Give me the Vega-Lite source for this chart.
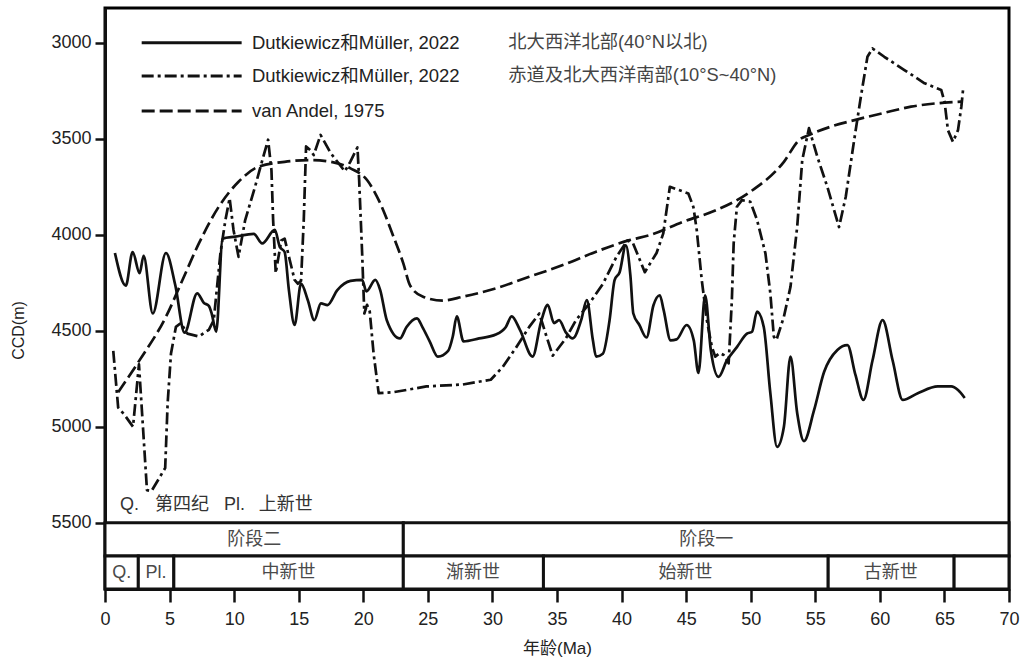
{
  "$schema": "https://vega.github.io/schema/vega-lite/v6.json",
  "width": 904,
  "height": 581,
  "autosize": {"type": "none"},
  "padding": {"left": 105, "top": 8, "right": 24, "bottom": 75},
  "background": "white",
  "config": {
    "view": {"stroke": "#000", "strokeWidth": 3},
    "font": "Liberation Sans, Noto Sans CJK SC, sans-serif"
  },
  "datasets": {
    "curves": [
      {"s":"N","x":0.77,"y":4095},{"s":"N","x":1.61,"y":4265},{"s":"N","x":2.14,"y":4090},{"s":"N","x":2.68,"y":4200},{"s":"N","x":2.99,"y":4110},{"s":"N","x":3.70,"y":4410},{"s":"N","x":4.72,"y":4095},{"s":"N","x":5.44,"y":4262},{"s":"N","x":6.16,"y":4510},{"s":"N","x":7.14,"y":4305},{"s":"N","x":7.66,"y":4355},{"s":"N","x":8.04,"y":4370},{"s":"N","x":8.27,"y":4413},{"s":"N","x":8.61,"y":4505},{"s":"N","x":9.11,"y":4020},{"s":"N","x":10.08,"y":4010},{"s":"N","x":11.52,"y":3995},{"s":"N","x":12.17,"y":4045},{"s":"N","x":13.15,"y":3975},{"s":"N","x":13.53,"y":4062},{"s":"N","x":13.91,"y":4090},{"s":"N","x":14.24,"y":4288},{"s":"N","x":14.68,"y":4470},{"s":"N","x":15.18,"y":4255},{"s":"N","x":15.70,"y":4340},{"s":"N","x":16.21,"y":4445},{"s":"N","x":16.72,"y":4357},{"s":"N","x":17.23,"y":4366},{"s":"N","x":17.99,"y":4288},{"s":"N","x":19.01,"y":4240},{"s":"N","x":19.91,"y":4235},{"s":"N","x":20.24,"y":4295},{"s":"N","x":20.93,"y":4235},{"s":"N","x":21.31,"y":4288},{"s":"N","x":21.82,"y":4445},{"s":"N","x":22.84,"y":4540},{"s":"N","x":23.35,"y":4480},{"s":"N","x":24.16,"y":4435},{"s":"N","x":24.58,"y":4481},{"s":"N","x":25.14,"y":4555},{"s":"N","x":25.78,"y":4635},{"s":"N","x":26.57,"y":4605},{"s":"N","x":26.93,"y":4530},{"s":"N","x":27.24,"y":4425},{"s":"N","x":27.76,"y":4555},{"s":"N","x":28.97,"y":4540},{"s":"N","x":30.26,"y":4520},{"s":"N","x":31.04,"y":4480},{"s":"N","x":31.49,"y":4425},{"s":"N","x":32.13,"y":4495},{"s":"N","x":33.11,"y":4635},{"s":"N","x":33.76,"y":4455},{"s":"N","x":34.28,"y":4365},{"s":"N","x":34.77,"y":4460},{"s":"N","x":35.16,"y":4445},{"s":"N","x":35.70,"y":4510},{"s":"N","x":36.22,"y":4540},{"s":"N","x":36.87,"y":4445},{"s":"N","x":37.31,"y":4340},{"s":"N","x":37.78,"y":4550},{"s":"N","x":38.03,"y":4635},{"s":"N","x":38.55,"y":4620},{"s":"N","x":39.07,"y":4445},{"s":"N","x":39.46,"y":4236},{"s":"N","x":39.85,"y":4195},{"s":"N","x":40.33,"y":4055},{"s":"N","x":40.68,"y":4210},{"s":"N","x":40.91,"y":4410},{"s":"N","x":41.38,"y":4470},{"s":"N","x":41.93,"y":4535},{"s":"N","x":42.47,"y":4367},{"s":"N","x":42.96,"y":4315},{"s":"N","x":43.25,"y":4390},{"s":"N","x":43.80,"y":4550},{"s":"N","x":44.26,"y":4545},{"s":"N","x":45.04,"y":4470},{"s":"N","x":45.59,"y":4550},{"s":"N","x":45.95,"y":4720},{"s":"N","x":46.47,"y":4315},{"s":"N","x":46.91,"y":4600},{"s":"N","x":47.51,"y":4740},{"s":"N","x":48.15,"y":4655},{"s":"N","x":48.93,"y":4585},{"s":"N","x":49.71,"y":4515},{"s":"N","x":50.10,"y":4505},{"s":"N","x":50.49,"y":4400},{"s":"N","x":51.01,"y":4480},{"s":"N","x":51.52,"y":4825},{"s":"N","x":52.04,"y":5105},{"s":"N","x":52.57,"y":5000},{"s":"N","x":53.08,"y":4635},{"s":"N","x":53.60,"y":4930},{"s":"N","x":54.12,"y":5075},{"s":"N","x":54.90,"y":4915},{"s":"N","x":55.68,"y":4715},{"s":"N","x":56.71,"y":4600},{"s":"N","x":57.49,"y":4575},{"s":"N","x":58.11,"y":4730},{"s":"N","x":58.73,"y":4860},{"s":"N","x":59.43,"y":4655},{"s":"N","x":60.21,"y":4445},{"s":"N","x":60.99,"y":4655},{"s":"N","x":61.77,"y":4860},{"s":"N","x":62.94,"y":4825},{"s":"N","x":64.49,"y":4790},{"s":"N","x":65.53,"y":4790},{"s":"N","x":66.05,"y":4809},{"s":"N","x":66.57,"y":4850},
      {"s":"E","x":0.64,"y":4605},{"s":"E","x":1.02,"y":4900},{"s":"E","x":1.53,"y":4940},{"s":"E","x":2.17,"y":5000},{"s":"E","x":2.63,"y":4675},{"s":"E","x":3.25,"y":5330},{"s":"E","x":3.60,"y":5335},{"s":"E","x":4.66,"y":5215},{"s":"E","x":4.85,"y":4878},{"s":"E","x":5.11,"y":4618},{"s":"E","x":5.49,"y":4480},{"s":"E","x":5.87,"y":4460},{"s":"E","x":6.38,"y":4515},{"s":"E","x":7.27,"y":4530},{"s":"E","x":8.04,"y":4495},{"s":"E","x":8.42,"y":4445},{"s":"E","x":8.68,"y":4270},{"s":"E","x":8.94,"y":4095},{"s":"E","x":9.32,"y":3925},{"s":"E","x":9.65,"y":3810},{"s":"E","x":9.95,"y":3975},{"s":"E","x":10.34,"y":4115},{"s":"E","x":10.85,"y":3925},{"s":"E","x":11.62,"y":3750},{"s":"E","x":12.25,"y":3595},{"s":"E","x":12.63,"y":3505},{"s":"E","x":12.89,"y":3665},{"s":"E","x":13.02,"y":3925},{"s":"E","x":13.22,"y":4200},{"s":"E","x":13.65,"y":4030},{"s":"E","x":13.91,"y":4020},{"s":"E","x":14.30,"y":4130},{"s":"E","x":14.68,"y":4235},{"s":"E","x":14.93,"y":4255},{"s":"E","x":15.18,"y":4240},{"s":"E","x":15.39,"y":3925},{"s":"E","x":15.57,"y":3540},{"s":"E","x":15.90,"y":3560},{"s":"E","x":16.16,"y":3585},{"s":"E","x":16.69,"y":3480},{"s":"E","x":17.48,"y":3575},{"s":"E","x":18.57,"y":3670},{"s":"E","x":18.99,"y":3620},{"s":"E","x":19.55,"y":3545},{"s":"E","x":19.68,"y":3715},{"s":"E","x":19.91,"y":4095},{"s":"E","x":20.08,"y":4410},{"s":"E","x":20.29,"y":4365},{"s":"E","x":20.50,"y":4400},{"s":"E","x":20.80,"y":4620},{"s":"E","x":21.19,"y":4825},{"s":"E","x":22.34,"y":4820},{"s":"E","x":24.89,"y":4790},{"s":"E","x":27.70,"y":4780},{"s":"E","x":29.87,"y":4755},{"s":"E","x":30.78,"y":4690},{"s":"E","x":31.81,"y":4590},{"s":"E","x":32.85,"y":4480},{"s":"E","x":33.63,"y":4410},{"s":"E","x":34.15,"y":4522},{"s":"E","x":34.67,"y":4630},{"s":"E","x":35.70,"y":4538},{"s":"E","x":36.48,"y":4444},{"s":"E","x":37.52,"y":4357},{"s":"E","x":38.56,"y":4255},{"s":"E","x":39.60,"y":4115},{"s":"E","x":40.45,"y":4030},{"s":"E","x":40.89,"y":4045},{"s":"E","x":41.80,"y":4195},{"s":"E","x":42.71,"y":4095},{"s":"E","x":43.23,"y":3993},{"s":"E","x":43.74,"y":3750},{"s":"E","x":45.17,"y":3785},{"s":"E","x":45.56,"y":3855},{"s":"E","x":45.82,"y":3975},{"s":"E","x":46.21,"y":4236},{"s":"E","x":46.60,"y":4444},{"s":"E","x":46.99,"y":4583},{"s":"E","x":47.25,"y":4635},{"s":"E","x":47.61,"y":4616},{"s":"E","x":47.90,"y":4626},{"s":"E","x":48.29,"y":4670},{"s":"E","x":48.54,"y":4341},{"s":"E","x":48.68,"y":4045},{"s":"E","x":48.93,"y":3854},{"s":"E","x":49.32,"y":3820},{"s":"E","x":49.97,"y":3828},{"s":"E","x":50.49,"y":3923},{"s":"E","x":51.14,"y":4097},{"s":"E","x":51.52,"y":4305},{"s":"E","x":51.79,"y":4531},{"s":"E","x":51.99,"y":4548},{"s":"E","x":52.57,"y":4427},{"s":"E","x":53.08,"y":4271},{"s":"E","x":53.60,"y":3958},{"s":"E","x":53.99,"y":3611},{"s":"E","x":54.51,"y":3445},{"s":"E","x":55.16,"y":3594},{"s":"E","x":55.93,"y":3750},{"s":"E","x":56.84,"y":3960},{"s":"E","x":57.36,"y":3802},{"s":"E","x":58.01,"y":3507},{"s":"E","x":58.53,"y":3281},{"s":"E","x":59.04,"y":3073},{"s":"E","x":59.43,"y":3030},{"s":"E","x":60.34,"y":3073},{"s":"E","x":61.90,"y":3142},{"s":"E","x":63.46,"y":3211},{"s":"E","x":64.75,"y":3246},{"s":"E","x":65.01,"y":3307},{"s":"E","x":65.27,"y":3455},{"s":"E","x":65.66,"y":3516},{"s":"E","x":66.05,"y":3455},{"s":"E","x":66.31,"y":3333},{"s":"E","x":66.44,"y":3246},
      {"s":"V","x":1.02,"y":4820},{"s":"V","x":2.68,"y":4653},{"s":"V","x":4.72,"y":4427},{"s":"V","x":6.0,"y":4236},{"s":"V","x":7.27,"y":4045},{"s":"V","x":8.81,"y":3854},{"s":"V","x":10.34,"y":3724},{"s":"V","x":11.87,"y":3646},{"s":"V","x":13.91,"y":3620},{"s":"V","x":15.95,"y":3611},{"s":"V","x":17.48,"y":3620},{"s":"V","x":19.01,"y":3654},{"s":"V","x":20.29,"y":3715},{"s":"V","x":21.31,"y":3836},{"s":"V","x":22.34,"y":4010},{"s":"V","x":23.10,"y":4149},{"s":"V","x":23.61,"y":4262},{"s":"V","x":24.63,"y":4323},{"s":"V","x":26.16,"y":4343},{"s":"V","x":27.70,"y":4323},{"s":"V","x":30.26,"y":4279},{"s":"V","x":32.85,"y":4219},{"s":"V","x":35.45,"y":4158},{"s":"V","x":38.03,"y":4088},{"s":"V","x":40.62,"y":4028},{"s":"V","x":42.18,"y":4002},{"s":"V","x":44.77,"y":3932},{"s":"V","x":47.36,"y":3871},{"s":"V","x":49.97,"y":3776},{"s":"V","x":52.57,"y":3620},{"s":"V","x":53.74,"y":3507},{"s":"V","x":54.51,"y":3481},{"s":"V","x":56.20,"y":3437},{"s":"V","x":58.27,"y":3399},{"s":"V","x":60.34,"y":3365},{"s":"V","x":62.41,"y":3333},{"s":"V","x":65.01,"y":3312},{"s":"V","x":66.31,"y":3307}
    ],
    "stages": [
      {"x":0,"xe":23.1,"y":5500,"ye":5673},
      {"x":23.1,"xe":70,"y":5500,"ye":5673},
      {"x":0,"xe":2.58,"y":5673,"ye":5845},
      {"x":2.58,"xe":5.33,"y":5673,"ye":5845},
      {"x":5.33,"xe":23.1,"y":5673,"ye":5845},
      {"x":23.1,"xe":33.95,"y":5673,"ye":5845},
      {"x":33.95,"xe":56,"y":5673,"ye":5845},
      {"x":56,"xe":65.75,"y":5673,"ye":5845},
      {"x":65.75,"xe":70,"y":5673,"ye":5845}
    ],
    "stageLabels": [
      {"x":11.55,"y":5590,"label":"阶段二"},
      {"x":46.55,"y":5590,"label":"阶段一"},
      {"x":1.29,"y":5762,"label":"Q."},
      {"x":3.95,"y":5762,"label":"Pl."},
      {"x":14.2,"y":5762,"label":"中新世"},
      {"x":28.5,"y":5762,"label":"渐新世"},
      {"x":44.95,"y":5762,"label":"始新世"},
      {"x":60.85,"y":5762,"label":"古新世"}
    ],
    "notes": [
      {"x":1.16,"y":5408,"label":"Q."},
      {"x":3.87,"y":5408,"label":"第四纪"},
      {"x":9.21,"y":5408,"label":"Pl."},
      {"x":11.9,"y":5408,"label":"上新世"}
    ],
    "legendLines": [
      {"s":"N","x":2.84,"xe":10.58,"y":3000},
      {"s":"E","x":2.84,"xe":10.58,"y":3173},
      {"s":"V","x":2.84,"xe":10.58,"y":3356}
    ],
    "legendText": [
      {"g":"a","x":11.38,"y":3000,"label":"Dutkiewicz和Müller, 2022"},
      {"g":"a","x":11.38,"y":3173,"label":"Dutkiewicz和Müller, 2022"},
      {"g":"a","x":11.38,"y":3356,"label":"van Andel, 1975"},
      {"g":"b","x":31.23,"y":3000,"label":"北大西洋北部(40°N以北)"},
      {"g":"b","x":31.23,"y":3173,"label":"赤道及北大西洋南部(10°S~40°N)"}
    ]
  },
  "encoding": {
    "x": {
      "field": "x", "type": "quantitative",
      "scale": {"domain": [0, 70], "nice": false, "zero": false},
      "axis": {
        "title": "年龄(Ma)", "values": [0,5,10,15,20,25,30,35,40,45,50,55,60,65,70],
        "grid": false, "tickSize": 13, "tickWidth": 2.5, "tickColor": "#111",
        "domainColor": "#111", "domainWidth": 3,
        "labelFontSize": 18, "labelColor": "#222", "labelPadding": 8, "labelFlush": false,
        "titleFontSize": 17, "titleFontWeight": "normal", "titleColor": "#222",
        "titleBaseline": "middle", "titleY": 59
      }
    },
    "y": {
      "field": "y", "type": "quantitative",
      "scale": {"domain": [2819, 5845], "reverse": true, "nice": false, "zero": false},
      "axis": {
        "title": "CCD(m)", "values": [3000,3500,4000,4500,5000,5500], "format": "d",
        "grid": false, "tickSize": 10, "tickWidth": 2.5, "tickColor": "#111",
        "domainColor": "#111", "domainWidth": 3,
        "labelFontSize": 18, "labelColor": "#222", "labelPadding": 4,
        "titleFontSize": 16, "titleFontWeight": "normal", "titleColor": "#222",
        "titleAngle": -90, "titleAlign": "center", "titleBaseline": "middle",
        "titleX": -87, "titleY": 322
      }
    }
  },
  "layer": [
    {
      "data": {"name": "stages"},
      "mark": {"type": "rect", "fill": "white", "stroke": "#111", "strokeWidth": 3},
      "encoding": {"x2": {"field": "xe"}, "y2": {"field": "ye"}}
    },
    {
      "data": {"name": "stageLabels"},
      "mark": {"type": "text", "fontSize": 18, "color": "#4a4a4a", "align": "center", "baseline": "middle"},
      "encoding": {"text": {"field": "label"}}
    },
    {
      "data": {"name": "notes"},
      "mark": {"type": "text", "fontSize": 18, "color": "#333", "align": "left", "baseline": "middle"},
      "encoding": {"text": {"field": "label"}}
    },
    {
      "data": {"name": "curves"},
      "transform": [{"filter": "datum.s === 'V'"}],
      "mark": {"type": "line", "color": "#111", "strokeWidth": 2.7, "strokeDash": [13, 5], "interpolate": "monotone"}
    },
    {
      "data": {"name": "curves"},
      "transform": [{"filter": "datum.s === 'E'"}],
      "mark": {"type": "line", "color": "#111", "strokeWidth": 2.7, "strokeDash": [12, 4, 3, 4], "strokeJoin": "round"}
    },
    {
      "data": {"name": "curves"},
      "transform": [{"filter": "datum.s === 'N'"}],
      "mark": {"type": "line", "color": "#111", "strokeWidth": 2.7, "interpolate": "monotone"}
    },
    {
      "data": {"name": "legendLines"},
      "mark": {"type": "rule", "color": "#111", "strokeWidth": 3},
      "encoding": {
        "x2": {"field": "xe"},
        "strokeDash": {
          "field": "s", "type": "nominal", "legend": null,
          "scale": {"domain": ["N", "E", "V"], "range": [[1, 0], [12, 4, 3, 4], [13, 5]]}
        }
      }
    },
    {
      "data": {"name": "legendText"},
      "transform": [{"filter": "datum.g === 'a'"}],
      "mark": {"type": "text", "fontSize": 18.5, "color": "#222", "align": "left", "baseline": "middle"},
      "encoding": {"text": {"field": "label"}}
    },
    {
      "data": {"name": "legendText"},
      "transform": [{"filter": "datum.g === 'b'"}],
      "mark": {"type": "text", "fontSize": 18.3, "color": "#444", "align": "left", "baseline": "middle"},
      "encoding": {"text": {"field": "label"}}
    }
  ]
}
